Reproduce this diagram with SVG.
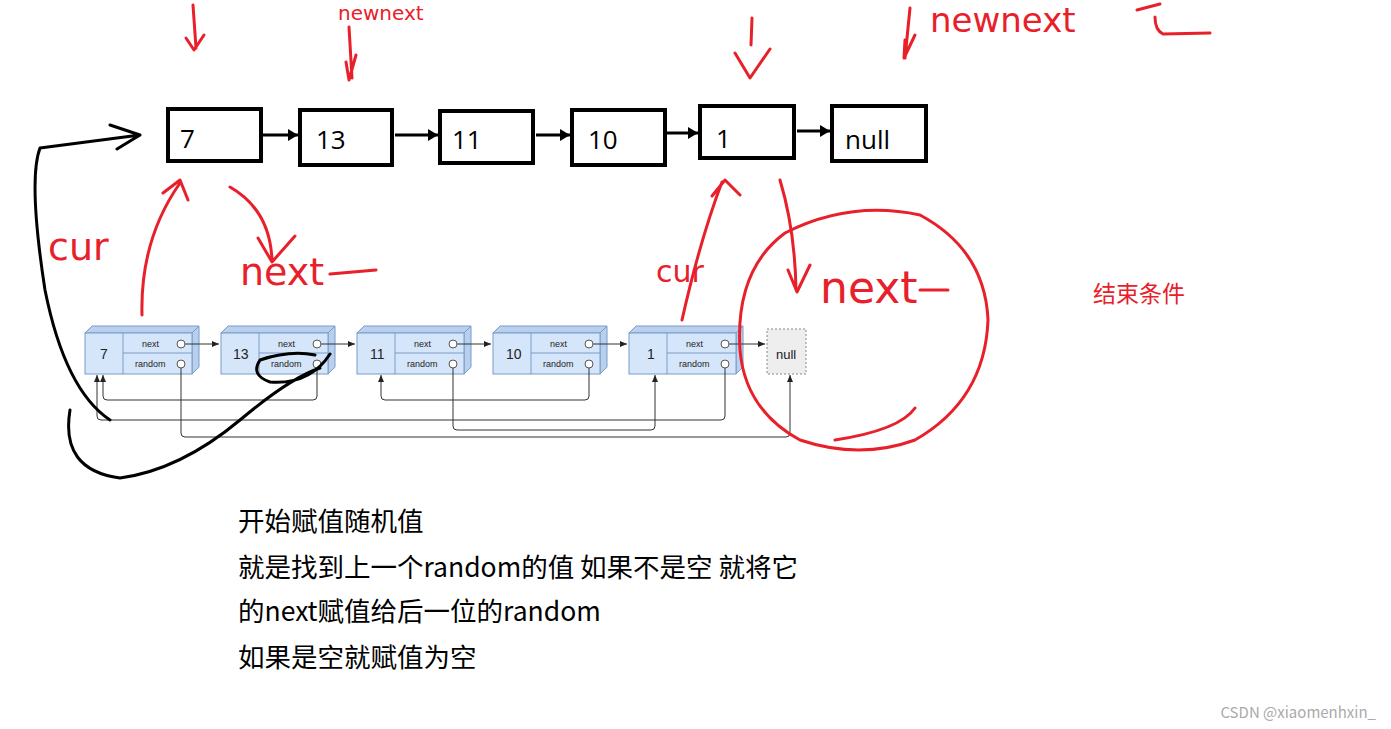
<svg xmlns="http://www.w3.org/2000/svg" width="1391" height="729" viewBox="0 0 1391 729">
<style>
.big rect{fill:#fff;stroke:#000;stroke-width:4}
.big text{font-family:"Open Sans","Liberation Sans",sans-serif;font-size:26px;fill:#000}
.sn .f{fill:#d6e6fa;stroke:#7a9cc8;stroke-width:1}
.sn .t{fill:#b9cfee;stroke:#7a9cc8;stroke-width:1}
.sn text{font-family:"Liberation Sans",sans-serif;fill:#222}
.sn .id{font-size:14px}
.sn .lb{font-size:9px}
.sn circle{fill:#fff;stroke:#555;stroke-width:1}
.c path,.c line{fill:none;stroke:#333;stroke-width:1}
.red{fill:none;stroke:#e8202a;stroke-width:3;stroke-linecap:round;stroke-linejoin:round}
.blk{fill:none;stroke:#000;stroke-width:3;stroke-linecap:round;stroke-linejoin:round}
.hw{font-family:"DejaVu Sans",sans-serif;fill:#e8202a}
.cn{font-family:"Microsoft YaHei","Noto Sans CJK SC",sans-serif;font-size:26.5px;fill:#000}
</style>
<defs>
<marker id="a" markerWidth="8" markerHeight="8" refX="7" refY="4" orient="auto" markerUnits="userSpaceOnUse"><path d="M0,1 L7,4 L0,7 z" fill="#222"/></marker>
<marker id="ab" markerWidth="12" markerHeight="12" refX="10" refY="6" orient="auto" markerUnits="userSpaceOnUse"><path d="M0,0 L10,6 L0,12 z" fill="#000"/></marker>
</defs>
<rect width="1391" height="729" fill="#fff"/>
<g class="big">
<g id="b7"><rect x="168" y="109" width="93" height="52"/><text x="180" y="148">7</text></g>
<g id="b13"><rect x="300" y="110" width="92" height="55"/><text x="316" y="149">13</text></g>
<g id="b11"><rect x="440" y="111" width="93" height="52"/><text x="452" y="149">11</text></g>
<g id="b10"><rect x="572" y="110" width="93" height="55"/><text x="588" y="149">10</text></g>
<g id="b1"><rect x="700" y="106" width="94" height="52"/><text x="716" y="148">1</text></g>
<g id="bnull"><rect x="832" y="106" width="94" height="55"/><text x="845" y="149">null</text></g>
</g>
<g id="bigconn" stroke="#000" stroke-width="3" fill="none">
<line x1="263" y1="135" x2="298" y2="135" marker-end="url(#ab)"/>
<line x1="395" y1="135" x2="438" y2="135" marker-end="url(#ab)"/>
<line x1="536" y1="135" x2="570" y2="135" marker-end="url(#ab)"/>
<line x1="667" y1="133" x2="698" y2="133" marker-end="url(#ab)"/>
<line x1="797" y1="131" x2="830" y2="131" marker-end="url(#ab)"/>
</g>
<g class="sn">
<g id="n7"><path class="t" d="M85,333 L92,326 L199,326 L192,333 Z"/><path class="t" d="M192,333 L199,326 L199,367 L192,374 Z"/><rect class="f" x="85" y="333" width="107" height="41"/><line x1="123" y1="333" x2="123" y2="374" stroke="#7a9cc8"/><line x1="123" y1="353" x2="192" y2="353" stroke="#7a9cc8"/><text class="id" x="100" y="359">7</text><text class="lb" x="142" y="347">next</text><text class="lb" x="135" y="367">random</text><circle cx="181" cy="344" r="4"/><circle cx="181" cy="364" r="4"/></g>
<g id="n13"><path class="t" d="M221,333 L228,326 L335,326 L328,333 Z"/><path class="t" d="M328,333 L335,326 L335,367 L328,374 Z"/><rect class="f" x="221" y="333" width="107" height="41"/><line x1="259" y1="333" x2="259" y2="374" stroke="#7a9cc8"/><line x1="259" y1="353" x2="328" y2="353" stroke="#7a9cc8"/><text class="id" x="233" y="359">13</text><text class="lb" x="278" y="347">next</text><text class="lb" x="271" y="367">random</text><circle cx="317" cy="344" r="4"/><circle cx="317" cy="364" r="4"/></g>
<g id="n11"><path class="t" d="M357,333 L364,326 L471,326 L464,333 Z"/><path class="t" d="M464,333 L471,326 L471,367 L464,374 Z"/><rect class="f" x="357" y="333" width="107" height="41"/><line x1="395" y1="333" x2="395" y2="374" stroke="#7a9cc8"/><line x1="395" y1="353" x2="464" y2="353" stroke="#7a9cc8"/><text class="id" x="370" y="359">11</text><text class="lb" x="414" y="347">next</text><text class="lb" x="407" y="367">random</text><circle cx="453" cy="344" r="4"/><circle cx="453" cy="364" r="4"/></g>
<g id="n10"><path class="t" d="M493,333 L500,326 L607,326 L600,333 Z"/><path class="t" d="M600,333 L607,326 L607,367 L600,374 Z"/><rect class="f" x="493" y="333" width="107" height="41"/><line x1="531" y1="333" x2="531" y2="374" stroke="#7a9cc8"/><line x1="531" y1="353" x2="600" y2="353" stroke="#7a9cc8"/><text class="id" x="506" y="359">10</text><text class="lb" x="550" y="347">next</text><text class="lb" x="543" y="367">random</text><circle cx="589" cy="344" r="4"/><circle cx="589" cy="364" r="4"/></g>
<g id="n1"><path class="t" d="M629,333 L636,326 L743,326 L736,333 Z"/><path class="t" d="M736,333 L743,326 L743,367 L736,374 Z"/><rect class="f" x="629" y="333" width="107" height="41"/><line x1="667" y1="333" x2="667" y2="374" stroke="#7a9cc8"/><line x1="667" y1="353" x2="736" y2="353" stroke="#7a9cc8"/><text class="id" x="647" y="359">1</text><text class="lb" x="686" y="347">next</text><text class="lb" x="679" y="367">random</text><circle cx="725" cy="344" r="4"/><circle cx="725" cy="364" r="4"/></g>
<g id="nnull"><rect x="767" y="329" width="39" height="45" fill="#eee" stroke="#888" stroke-dasharray="2,2"/><text x="776" y="359" font-size="13">null</text></g>
</g>
<g class="c">
<line x1="185" y1="344" x2="219" y2="344" marker-end="url(#a)"/>
<line x1="321" y1="344" x2="355" y2="344" marker-end="url(#a)"/>
<line x1="457" y1="344" x2="491" y2="344" marker-end="url(#a)"/>
<line x1="593" y1="344" x2="627" y2="344" marker-end="url(#a)"/>
<line x1="729" y1="344" x2="765" y2="344" stroke="#888" stroke-width="2" marker-end="url(#a)"/>
<path d="M317,368 V396 Q317,400 313,400 H107 Q103,400 103,396 V375" marker-end="url(#a)"/>
<path d="M725,368 V416 Q725,420 721,420 H101 Q97,420 97,416 V375" marker-end="url(#a)"/>
<path d="M589,368 V396 Q589,400 585,400 H385 Q381,400 381,396 V375" marker-end="url(#a)"/>
<path d="M453,368 V426 Q453,430 457,430 H651 Q655,430 655,426 V375" marker-end="url(#a)"/>
<path d="M181,368 V433 Q181,437 185,437 H786 Q790,437 790,433 V375" marker-end="url(#a)"/>
</g>
<g id="annotations">
<path class="red" d="M193,5 L196,48 M186,38 L194,50 L204,35"/>
<path class="red" d="M349,27 L352,78 M346,62 L349,80 L356,55"/>
<path class="red" d="M752,18 L751,45 M735,53 L750,78 L770,49"/>
<path class="red" d="M910,8 L905,58 M905,40 L904,58 L915,35"/>
<text class="hw" x="338" y="20" font-size="20">newnext</text>
<text class="hw" x="930" y="32" font-size="34">newnext</text>
<path class="red" d="M1155,17 Q1155,30 1163,34 L1210,33 M1137,10 L1160,4"/>
<path class="red" d="M142,315 Q140,240 180,183 M163,193 L180,180 L188,200"/>
<path class="red" d="M230,187 Q270,210 272,260 M258,238 L272,262 L295,236"/>
<text class="hw" x="48" y="260" font-size="38">cur</text>
<text class="hw" x="240" y="285" font-size="38">next</text>
<path class="red" d="M330,274 L376,270"/>
<path class="red" d="M682,320 Q700,240 722,182 M712,196 L725,180 L740,195"/>
<path class="red" d="M780,180 Q795,230 796,290 M788,270 L797,292 L810,265"/>
<text class="hw" x="656" y="282" font-size="30">cur</text>
<text class="hw" x="820" y="303" font-size="44">next</text>
<path class="red" d="M920,290 L948,290"/>
<path class="red" d="M785,233 Q850,200 920,215 Q985,250 988,320 Q985,400 915,440 Q860,460 800,440 Q745,410 740,350 Q735,270 785,233 M915,408 Q900,430 835,440"/>
<path class="blk" d="M140,135 L40,148 Q28,180 45,290 Q65,390 110,420 M110,125 L140,135 L117,149"/>
<path class="blk" d="M70,410 Q60,470 120,478 Q180,470 240,420 Q290,378 320,368 M330,354 Q310,385 270,382 Q250,375 260,360 Q290,350 315,355"/>
</g>
<text x="1093" y="302" font-family="Microsoft YaHei,'Noto Sans CJK SC',sans-serif" font-size="23" fill="#e8202a">结束条件</text>
<g id="notes">
<text class="cn" x="238" y="531">开始赋值随机值</text>
<text class="cn" x="238" y="577">就是找到上一个random的值 如果不是空 就将它</text>
<text class="cn" x="238" y="621">的next赋值给后一位的random</text>
<text class="cn" x="238" y="667">如果是空就赋值为空</text>
</g>
<text x="1376" y="718" text-anchor="end" font-family="'Noto Sans CJK SC',sans-serif" font-size="15" fill="#aaa">CSDN @xiaomenhxin_</text>
</svg>
